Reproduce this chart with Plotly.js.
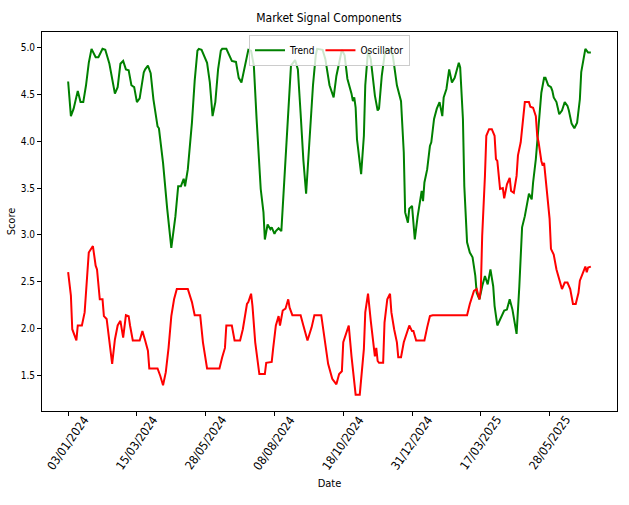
<!DOCTYPE html>
<html>
<head>
<meta charset="utf-8">
<script src="https://cdn.plot.ly/plotly-3.0.1.min.js"></script>
<style>html,body{margin:0;padding:0;background:#fff;}#chart{width:629px;height:505px;}</style>
</head>
<body>
<div id="chart"></div>
<script>
// Trading-day index (0 = 03/01/2024) and values
const trendX = [0,2,4,7,9,11,13,15,17,20,22,25,27,30,34,36,38,40,42,44,46,48,50,52,55,56,58,60,62,65,66,69,72,75,78,80,82,84,85,87,90,92,94,95,97,99,101,103,105,107,109,111,112,115,119,122,124,126,128,131,133,135,137,140,142,143,145,147,148,150,151,153,155,157,160,162,165,167,169,171,173,175,178,180,181,185,187,190,193,195,198,199,201,203,206,207,208,209,210,213,215,216,218,220,223,225,226,228,230,231,234,236,239,241,242,244,245,247,248,250,252,254,256,257,258,259,261,263,264,266,268,270,272,273,275,277,279,281,284,285,287,288,290,292,294,296,297,299,301,303,305,307,309,310,312,314,317,319,321,323,326,328,330,332,334,335,337,338,340,342,344,346,347,349,351,352,353,355,357,359,361,363,364,366,368,370,372,373,375,376,378,380];
const trendY = [4.64,4.27,4.35,4.54,4.42,4.42,4.60,4.84,4.99,4.90,4.90,4.99,4.98,4.83,4.51,4.58,4.83,4.86,4.77,4.76,4.60,4.58,4.42,4.46,4.74,4.77,4.81,4.73,4.45,4.16,4.14,3.77,3.28,2.86,3.20,3.52,3.52,3.60,3.52,3.70,4.20,4.65,4.97,4.99,4.98,4.90,4.84,4.63,4.27,4.42,4.77,4.97,4.99,4.99,4.86,4.85,4.68,4.63,4.77,4.98,4.97,4.81,4.24,3.49,3.24,2.95,3.11,3.06,3.08,3.01,3.04,3.07,3.04,3.52,4.35,4.81,4.87,4.77,4.30,3.80,3.44,3.92,4.60,4.92,4.99,4.98,4.88,4.60,4.47,4.70,4.93,4.98,4.92,4.67,4.51,4.43,4.47,4.36,4.02,3.65,4.06,4.60,4.97,4.88,4.49,4.33,4.35,4.70,4.92,4.98,4.98,4.92,4.60,4.49,4.43,3.88,3.24,3.13,3.28,3.31,2.95,3.19,3.35,3.47,3.36,3.56,3.70,3.95,3.99,4.24,4.35,4.42,4.27,4.47,4.56,4.77,4.63,4.68,4.84,4.79,4.24,3.52,2.92,2.81,2.76,2.56,2.38,2.31,2.45,2.56,2.47,2.63,2.45,2.24,2.03,2.10,2.19,2.20,2.31,2.20,1.94,2.45,3.08,3.20,3.35,3.44,3.38,3.56,3.81,4.20,4.52,4.68,4.68,4.60,4.58,4.54,4.47,4.42,4.29,4.33,4.42,4.38,4.33,4.19,4.14,4.20,4.45,4.74,4.93,4.99,4.95,4.95];

const oscX = [0,2,3,6,7,10,12,13,15,18,20,21,23,25,26,28,30,32,34,36,38,40,42,44,45,47,52,54,56,58,59,65,67,69,71,73,75,77,79,87,90,92,96,98,101,110,112,114,115,119,121,125,127,128,130,131,133,134,136,139,143,144,148,149,151,153,154,156,158,160,161,163,169,171,174,177,179,184,186,189,192,195,197,199,200,202,204,206,208,209,212,215,216,218,220,221,223,224,225,226,229,230,232,234,235,237,239,240,242,244,246,248,250,251,253,259,261,263,265,290,292,295,297,299,300,301,303,304,306,308,310,311,312,314,316,317,319,321,322,324,326,327,329,331,332,335,336,338,340,341,342,344,345,346,348,350,351,353,355,357,359,361,363,365,367,369,371,372,375,376,377,378,380];
const oscY = [2.60,2.35,1.99,1.87,2.03,2.03,2.17,2.42,2.81,2.88,2.67,2.63,2.31,2.31,2.13,2.10,1.88,1.62,1.88,2.03,2.08,1.90,2.14,2.13,2.03,1.87,1.87,1.97,1.87,1.76,1.57,1.57,1.49,1.39,1.53,1.79,2.13,2.31,2.42,2.42,2.28,2.14,2.14,1.85,1.57,1.57,1.69,1.79,2.03,2.03,1.87,1.87,1.99,2.10,2.26,2.28,2.37,2.24,1.85,1.51,1.51,1.63,1.64,1.78,2.03,2.13,2.03,2.19,2.21,2.31,2.22,2.14,2.14,2.03,1.87,2.01,2.14,2.14,1.95,1.62,1.46,1.40,1.51,1.54,1.85,1.94,2.03,1.70,1.42,1.29,1.29,1.78,2.17,2.37,2.08,1.97,1.70,1.79,1.65,1.63,1.63,2.06,2.31,2.37,2.17,1.99,1.85,1.69,1.69,1.85,1.94,2.03,1.97,1.97,1.87,1.87,2.01,2.13,2.14,2.14,2.26,2.40,2.42,2.31,2.42,2.99,3.63,4.06,4.13,4.13,4.06,3.81,3.79,3.49,3.50,3.39,3.54,3.61,3.47,3.45,3.63,3.85,3.99,4.26,4.42,4.42,4.37,4.36,4.27,4.06,3.99,3.79,3.74,3.77,3.45,3.17,2.85,2.79,2.63,2.51,2.42,2.49,2.49,2.42,2.26,2.26,2.38,2.51,2.63,2.66,2.60,2.65,2.66];

const tickIdx = [0,50,100,150,200,250,300,350];
const tickLabels = ["03/01/2024","15/03/2024","28/05/2024","08/08/2024","18/10/2024","31/12/2024","17/03/2025","28/05/2025"];
const yTicks = [1.5,2.0,2.5,3.0,3.5,4.0,4.5,5.0];

const FONT = "DejaVu Sans Condensed, DejaVu Sans, sans-serif";

const traces = [
  {x: trendX, y: trendY, type: "scatter", mode: "lines", name: "Trend",
   line: {color: "#008000", width: 2}},
  {x: oscX, y: oscY, type: "scatter", mode: "lines", name: "Oscillator",
   line: {color: "#ff0000", width: 2}}
];

// Rotated date labels centred under each tick (matplotlib style)
const tickAnnotations = tickIdx.map((v, i) => ({
  x: v, xref: "x", y: -0.085, yref: "paper",
  text: tickLabels[i], showarrow: false, textangle: -55,
  xanchor: "center", yanchor: "middle",
  font: {size: 12, family: FONT, color: "#000"}
}));

const layout = {
  width: 629, height: 505,
  margin: {l: 42, r: 12, t: 32, b: 94},
  paper_bgcolor: "#ffffff", plot_bgcolor: "#ffffff",
  font: {family: FONT, color: "#000", size: 10},
  title: {text: "Market Signal Components", font: {size: 12, family: FONT},
          x: 0.523, xanchor: "center", y: 0.964, yanchor: "middle"},
  showlegend: true,
  legend: {orientation: "h", x: 0.5, xanchor: "center", y: 0.993, yanchor: "top",
           bgcolor: "rgba(255,255,255,0.8)", bordercolor: "#cccccc", borderwidth: 1,
           font: {size: 10, family: FONT}, itemwidth: 30},
  annotations: tickAnnotations,
  xaxis: {range: [-19, 399], tickvals: tickIdx, showticklabels: false,
          showgrid: false, zeroline: false, showline: true, mirror: true,
          linecolor: "#000", linewidth: 1, ticks: "outside", ticklen: 4, tickcolor: "#000",
          automargin: false,
          title: {text: "Date", font: {size: 11}, standoff: 64}},
  yaxis: {range: [1.115, 5.17], tickvals: yTicks, tickformat: ".1f",
          showgrid: false, zeroline: false, showline: true, mirror: true,
          linecolor: "#000", linewidth: 1, ticks: "outside", ticklen: 4, tickcolor: "#000",
          tickfont: {size: 10}, automargin: false,
          title: {text: "Score", font: {size: 11}, standoff: 2}}
};

Plotly.newPlot("chart", traces, layout, {displayModeBar: false, staticPlot: true});
</script>
</body>
</html>
